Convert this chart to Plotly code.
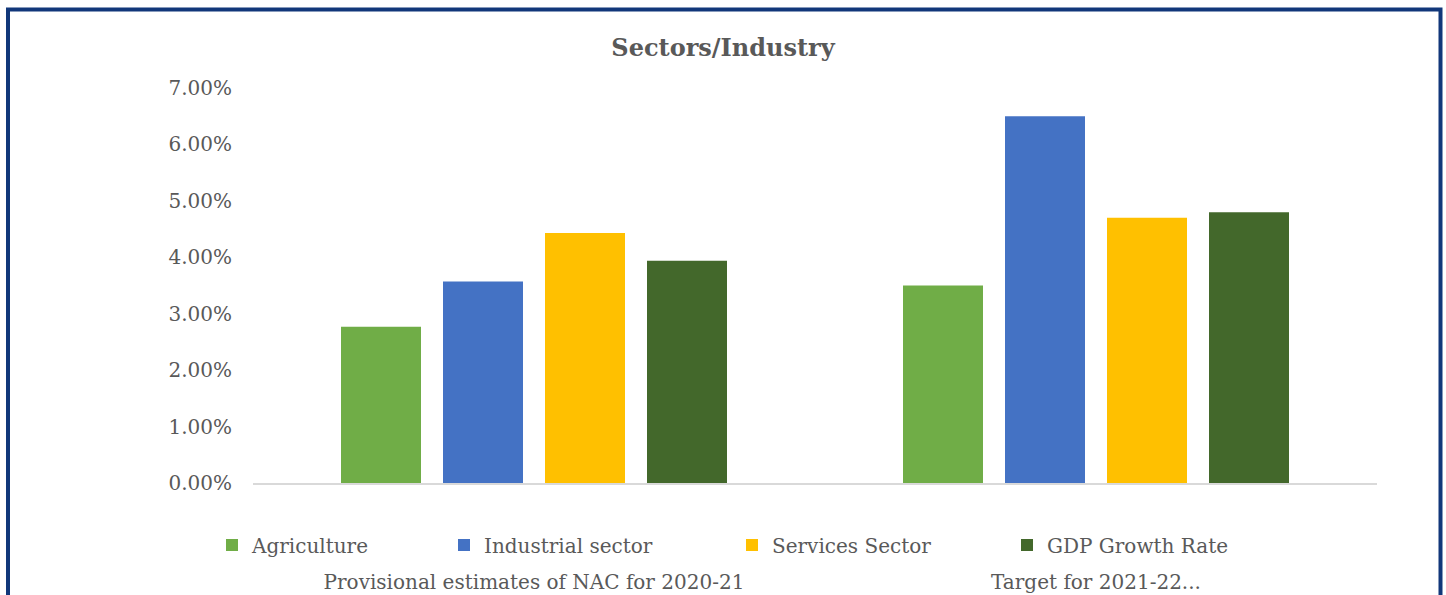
import plotly.graph_objects as go

# Growth rates (%) by sector
categories = ["Provisional estimates of NAC for 2020-21", "Target for 2021-22..."]
series_names = ["Agriculture", "Industrial sector", "Services Sector", "GDP Growth Rate"]
agriculture = [2.77, 3.50]
industrial = [3.57, 6.50]
services = [4.43, 4.70]
gdp_growth = [3.94, 4.80]
y_ticks = [0, 1, 2, 3, 4, 5, 6, 7]
y_tick_labels = [f"{v:.2f}%" for v in y_ticks]

series_values = [agriculture, industrial, services, gdp_growth]
colors = ["#70AD47", "#4472C4", "#FFC000", "#43682B"]
legend_ids = ["legend", "legend2", "legend3", "legend4"]

W, H = 1446, 595
L, R, T, B = 253, 1377, 88, 483   # plot area in pixels
pw, ph = R - L, B - T

def px_x(x):
    return (x - L) / pw

def px_y(y):
    return (B - y) / ph

FONT = "DejaVu Serif"
GREY = "#595959"

fig = go.Figure()
for name, vals, col, lg in zip(series_names, series_values, colors, legend_ids):
    fig.add_trace(go.Bar(
        x=categories, y=vals, name=name, marker_color=col,
        marker_line_width=0, legend=lg,
    ))

# one legend per series, laid out along a row below the axis
legend_left = [226, 458, 746, 1021]
layout_legends = {}
for lg, xl in zip(legend_ids, legend_left):
    layout_legends[lg] = dict(
        xref="container", yref="container",
        x=(xl - 14) / W, y=1 - 545 / H, xanchor="left", yanchor="middle",
        orientation="h", bgcolor="rgba(0,0,0,0)",
        font=dict(family=FONT, size=20, color=GREY),
    )

fig.update_layout(
    width=W, height=H,
    margin=dict(l=L, r=W - R, t=T, b=H - B, pad=0, autoexpand=False),
    paper_bgcolor="white", plot_bgcolor="white",
    barmode="group", bargap=0.274, bargroupgap=0.2157,
    title=dict(
        text="<b>Sectors/Industry</b>", x=0.5, xanchor="center",
        y=1 - 48 / H, yanchor="middle",
        font=dict(family=FONT, size=24, color=GREY),
    ),
    showlegend=True,
    **layout_legends,
    xaxis=dict(
        showline=True, linecolor="#D9D9D9", linewidth=1.5,
        showgrid=False, ticks="", ticklabelstandoff=80, automargin=False,
        tickfont=dict(family=FONT, size=20, color=GREY),
    ),
    yaxis=dict(
        range=[0, 7], tickvals=y_ticks, ticktext=y_tick_labels,
        showgrid=False, zeroline=False, showline=False, ticks="",
        ticklabelstandoff=20, automargin=False,
        tickfont=dict(family=FONT, size=20, color=GREY),
    ),
    shapes=[dict(
        type="rect", xref="paper", yref="paper",
        x0=px_x(8), x1=px_x(1440.5), y0=px_y(640), y1=px_y(9.5),
        line=dict(color="#11377A", width=4), fillcolor="rgba(0,0,0,0)",
        layer="below",
    )],
)

fig.write_html("out.html")
